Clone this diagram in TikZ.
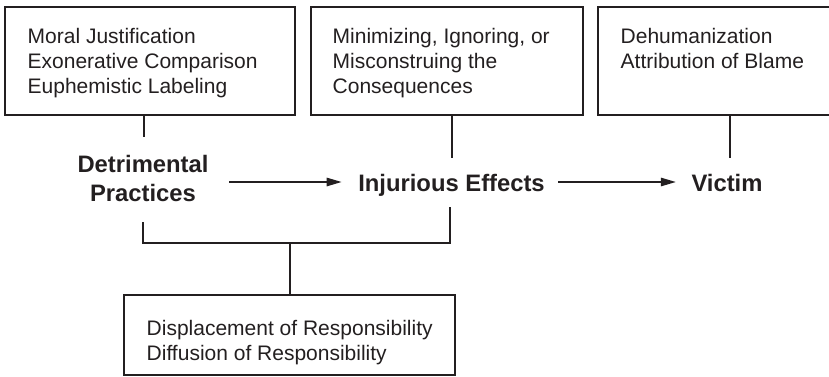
\documentclass[tikz,border=0pt]{standalone}
\usepackage{fontspec}
\setmainfont{Liberation Sans}
\usetikzlibrary{arrows.meta}
\definecolor{ink}{HTML}{231F20}
\begin{document}
\begin{tikzpicture}[x=1pt,y=-1pt,
  line width=1.4pt, draw=ink,
  box/.style={draw=ink, line width=1.3pt, inner sep=0pt, rectangle},
  boxtext/.style={inner sep=0pt, anchor=base west, text=ink, font=\fontsize{21}{25}\selectfont},
  key/.style={inner sep=0pt, anchor=base, text=ink, font=\fontsize{23.8}{29.5}\selectfont\bfseries},
  arr/.style={draw=ink, line width=1.4pt, -{Triangle[length=15pt,width=8.5pt]}},
  link/.style={draw=ink, line width=1.4pt}]
\useasboundingbox (0,0) rectangle (829,377);
\clip (0,0) rectangle (829,377);
% boxes
\node[box, minimum width=290pt, minimum height=108pt] (b1) at (150,61) {};
\node[box, minimum width=272pt, minimum height=108pt] (b2) at (447,61) {};
\node[box, minimum width=242pt, minimum height=108pt] (b3) at (719,61) {};
\node[box, minimum width=331pt, minimum height=80pt] (db) at (289.5,335) {};
% box texts
\node[boxtext] (t1) at (27,44) {\vtop{\hbox{Moral Justification}\hbox{Exonerative Comparison}\hbox{Euphemistic Labeling}}};
\node[boxtext] (t2) at (332,44) {\vtop{\hbox{Minimizing, Ignoring, or}\hbox{Misconstruing the}\hbox{Consequences}}};
\node[boxtext] (t3) at (620,44) {\vtop{\hbox{Dehumanization}\hbox{Attribution of Blame}}};
\node[boxtext] (t4) at (146,335) {\vtop{\hbox{Displacement of Responsibility}\hbox{Diffusion of Responsibility}}};
% key terms
\node[key] (dp) at (143,172) {\vtop{\halign{\hfil#\hfil\cr Detrimental\cr Practices\cr}}};
\node[key] (ie) at (451.5,191) {Injurious Effects};
\node[key] (vi) at (727,191) {Victim};
% helper coordinates
\coordinate (ay) at (0,182);
\coordinate (s1e) at (144,137);
\coordinate (s2e) at (452,158);
\coordinate (s3e) at (730,158);
\coordinate (u2) at (450,207);
\coordinate (u1) at (143,222);
\coordinate (jn) at (290,243);
% arrows
\draw[arr, shorten <=20pt, shorten >=16pt] (dp.east |- ay) -- (ie.west |- ay);
\draw[arr, shorten <=13pt, shorten >=15pt] (ie.east |- ay) -- (vi.west |- ay);
% stems
\draw[link] (b1.south -| s1e) -- (s1e);
\draw[link] (b2.south -| s2e) -- (s2e);
\draw[link] (b3.south -| s3e) -- (s3e);
% bracket
\draw[link] (u1) -- (u1 |- jn) -- (u2 |- jn) -- (u2);
\draw[link] (jn) -- (db.north -| jn);
\end{tikzpicture}
\end{document}
